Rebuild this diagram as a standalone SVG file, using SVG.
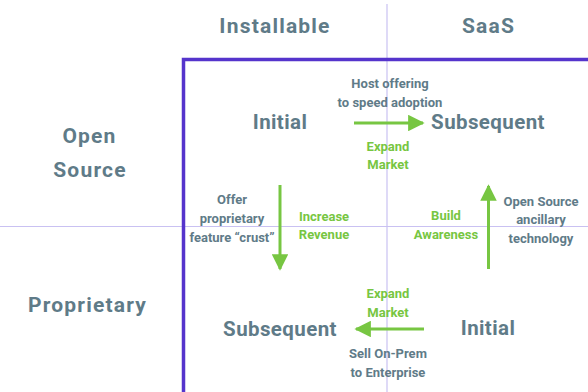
<svg xmlns="http://www.w3.org/2000/svg" width="588" height="392" viewBox="0 0 588 392">
<defs>
<style>
.t{font-family:Roboto,"Liberation Sans",sans-serif;font-weight:bold;fill:#5f7b88;text-anchor:middle}
.h{font-size:21px;letter-spacing:1.2px}
.n{font-size:20.5px;letter-spacing:0.4px}
.s{font-size:13px}
.g{font-family:Roboto,"Liberation Sans",sans-serif;font-weight:bold;fill:#77c642;text-anchor:middle;font-size:13px}
.ax{stroke:#c9c1f2;stroke-width:1.2;fill:none}
.ar{stroke:#77c642;stroke-width:3;fill:none}
</style>
<marker id="ah" viewBox="0 0 10 10" refX="9" refY="5" markerWidth="5.5" markerHeight="5.5" markerUnits="strokeWidth" orient="auto">
<path d="M0,0 L10,5 L0,10 z" fill="#77c642"/>
</marker>
</defs>
<rect width="588" height="392" fill="#ffffff"/>
<g id="axes">
<line class="ax" x1="387" y1="4" x2="387" y2="392"/>
<line class="ax" x1="0" y1="226.5" x2="588" y2="226.5"/>
<path d="M183.5,392 V59.5 H588" stroke="#5534cc" stroke-width="3.5" fill="none"/>
</g>
<g id="headers">
<text class="t h" x="275" y="33">Installable</text>
<text class="t h" x="488.5" y="33">SaaS</text>
<text class="t h" x="89.5" y="143">Open</text>
<text class="t h" x="90" y="176.5">Source</text>
<text class="t h" x="87.5" y="312">Proprietary</text>
</g>
<g id="os-initial"><text class="t n" x="280" y="129">Initial</text></g>
<g id="os-subsequent"><text class="t n" x="488" y="129">Subsequent</text></g>
<g id="prop-subsequent"><text class="t n" x="280" y="336">Subsequent</text></g>
<g id="prop-initial"><text class="t n" x="488" y="335">Initial</text></g>
<g id="connectors">
<line class="ar" x1="354" y1="123" x2="423" y2="123" marker-end="url(#ah)"/>
<line class="ar" x1="280" y1="185" x2="280" y2="269" marker-end="url(#ah)"/>
<line class="ar" x1="488.5" y1="269" x2="488.5" y2="186" marker-end="url(#ah)"/>
<line class="ar" x1="424" y1="329" x2="356" y2="329" marker-end="url(#ah)"/>
</g>
<g id="labels">
<text class="t s" x="390" y="88">Host offering</text>
<text class="t s" x="390" y="106.5">to speed adoption</text>
<text class="g" x="388" y="151">Expand</text>
<text class="g" x="388" y="169">Market</text>
<text class="t s" x="232" y="204">Offer</text>
<text class="t s" x="232" y="223">proprietary</text>
<text class="t s" x="232" y="242">feature “crust”</text>
<text class="g" x="324" y="221">Increase</text>
<text class="g" x="324" y="239">Revenue</text>
<text class="g" x="446" y="220">Build</text>
<text class="g" x="446" y="239">Awareness</text>
<text class="t s" x="541" y="206">Open Source</text>
<text class="t s" x="541" y="224">ancillary</text>
<text class="t s" x="541" y="243">technology</text>
<text class="g" x="388" y="298">Expand</text>
<text class="g" x="388" y="317">Market</text>
<text class="t s" x="388" y="358">Sell On-Prem</text>
<text class="t s" x="388" y="377">to Enterprise</text>
</g>
</svg>
